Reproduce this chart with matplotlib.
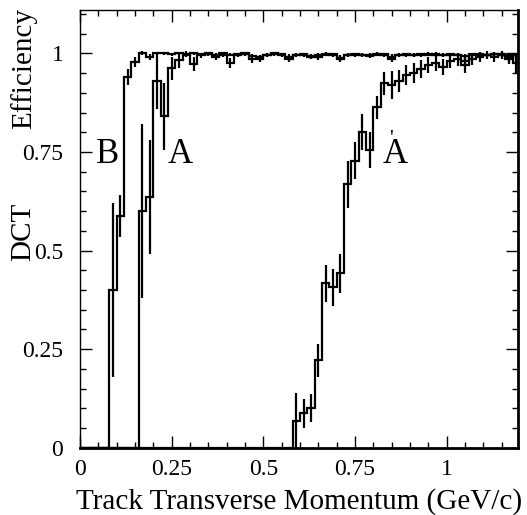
import matplotlib
matplotlib.use("Agg")
import matplotlib.pyplot as plt
import numpy as np
from matplotlib.ticker import MultipleLocator

plt.rcParams['font.family'] = ['Liberation Serif', 'DejaVu Serif']

# 60 bins of 0.02 GeV/c from 0 to 1.2
bin_edges = [round(0.02 * i, 2) for i in range(61)]

# curve B
eff_b = [0, 0, 0, 0, 0.40, 0.587, 0.94, 0.978, 1.0, 0.99,
         1.0, 1.0, 0.998, 1.0, 0.997, 1.0, 0.998, 1.0, 0.995, 1.0,
         0.997, 0.998, 1.0, 0.993, 0.99, 0.997, 1.0, 0.998, 0.987, 0.997,
         0.998, 0.993, 0.99, 0.997, 0.998, 0.985, 0.997, 0.998, 0.997, 0.994,
         0.997, 0.998, 0.987, 0.997, 0.998, 0.996, 0.998, 0.997, 0.999, 0.996,
         0.998, 0.997, 0.993, 0.998, 0.999, 0.996, 0.998, 0.999, 0.997, 0.995]
err_b = [0, 0, 0, 0, 0.22, 0.053, 0.02, 0.012, 0.005, 0.008,
         0.004, 0.004, 0.004, 0.004, 0.004, 0.004, 0.004, 0.004, 0.005, 0.004,
         0.004, 0.004, 0.004, 0.006, 0.007, 0.004, 0.004, 0.004, 0.01, 0.004,
         0.004, 0.006, 0.007, 0.004, 0.004, 0.008, 0.004, 0.004, 0.004, 0.005,
         0.004, 0.004, 0.009, 0.004, 0.004, 0.004, 0.004, 0.004, 0.004, 0.004,
         0.004, 0.004, 0.006, 0.004, 0.004, 0.004, 0.004, 0.004, 0.004, 0.005]

# curve A
eff_a = [0, 0, 0, 0, 0, 0, 0, 0, 0.60, 0.636,
         0.93, 0.841, 0.962, 0.984, 0.998, 0.973, 0.995, 0.998, 0.99, 0.997,
         0.976, 0.995, 0.998, 0.985, 0.987, 0.996, 0.998, 0.995, 0.99, 0.996,
         0.997, 0.992, 0.996, 0.998, 0.995, 0.988, 0.996, 0.997, 0.995, 0.996,
         0.998, 0.996, 0.99, 0.996, 0.997, 0.995, 0.997, 0.998, 0.996, 0.995,
         0.997, 0.996, 0.98, 0.995, 0.997, 0.996, 0.998, 0.997, 0.985, 0.996]
err_a = [0, 0, 0, 0, 0, 0, 0, 0, 0.22, 0.145,
         0.07, 0.085, 0.03, 0.02, 0.008, 0.017, 0.006, 0.005, 0.008, 0.005,
         0.012, 0.005, 0.005, 0.009, 0.009, 0.005, 0.005, 0.005, 0.008, 0.005,
         0.005, 0.006, 0.005, 0.005, 0.005, 0.008, 0.005, 0.005, 0.005, 0.005,
         0.005, 0.005, 0.008, 0.005, 0.005, 0.005, 0.005, 0.005, 0.005, 0.005,
         0.005, 0.005, 0.01, 0.005, 0.005, 0.005, 0.005, 0.005, 0.012, 0.005]

# curve A'
eff_a2 = [0] * 29 + [0.068, 0.087, 0.10, 0.222, 0.417, 0.407, 0.442, 0.668, 0.728, 0.80,
                     0.755, 0.863, 0.924, 0.92, 0.93, 0.945, 0.95, 0.96, 0.97, 0.975,
                     0.965, 0.98, 0.985, 0.97, 0.985, 0.99, 0.995, 0.99, 0.995, 0.99,
                     0.975]
err_a2 = [0] * 29 + [0.07, 0.037, 0.035, 0.042, 0.047, 0.047, 0.05, 0.06, 0.047, 0.045,
                     0.045, 0.03, 0.03, 0.035, 0.028, 0.026, 0.025, 0.022, 0.02, 0.02,
                     0.02, 0.018, 0.016, 0.02, 0.015, 0.012, 0.01, 0.012, 0.01, 0.012,
                     0.025]

tick_vals = [0, 0.25, 0.5, 0.75, 1]
tick_labels = ["0", "0.25", "0.5", "0.75", "1"]

fig = plt.figure(figsize=(5.27, 5.15), dpi=100)
ax = fig.add_axes([80 / 527, 1 - 447.7 / 515, 438 / 527, 437.7 / 515])

edges = np.array(bin_edges)
centers = (edges[:-1] + edges[1:]) / 2
for eff, err in [(eff_b, err_b), (eff_a, err_a), (eff_a2, err_a2)]:
    eff = np.array(eff)
    err = np.array(err)
    ax.stairs(eff, edges, color='black', lw=1.6)
    m = eff > 0
    ax.errorbar(centers[m], eff[m], yerr=err[m], fmt='none', ecolor='black',
                elinewidth=1.6, capsize=0)

ax.text(0.076, 0.722, "B", fontsize=25, ha='center', va='baseline')
ax.text(0.273, 0.722, "A", fontsize=25, ha='center', va='baseline')
ax.text(0.859, 0.721, "A", fontsize=25, ha='center', va='baseline')
# the prime sits just over the apex of the A
ax.text(0.849, 0.782, "'", fontsize=15, ha='center', va='center')

ax.set_xlim(0, 1.195)
ax.set_ylim(0, 1.11)
ax.set_xticks(tick_vals, labels=tick_labels)
ax.set_yticks(tick_vals, labels=tick_labels)
ax.xaxis.set_minor_locator(MultipleLocator(0.05))
ax.yaxis.set_minor_locator(MultipleLocator(0.05))
ax.tick_params(which='both', direction='in', top=True, right=True, width=1, labelsize=17)
ax.tick_params(which='major', length=8.5)
ax.tick_params(which='minor', length=4.3)
ax.tick_params(axis='x', pad=8)
ax.tick_params(axis='y', pad=12)
for side in ['bottom', 'right']:
    ax.spines[side].set_linewidth(2)
for side in ['top', 'left']:
    ax.spines[side].set_linewidth(1)

ax.set_xlabel("Track Transverse Momentum (GeV/c)", fontsize=21, labelpad=6)
fig.text(24 / 527, 1 - 68 / 515, "Efficiency", rotation=90, fontsize=21,
         ha='center', va='center')
fig.text(23 / 527, 1 - 232 / 515, "DCT", rotation=90, fontsize=21,
         ha='center', va='center')

fig.savefig("out.png", dpi=100)
